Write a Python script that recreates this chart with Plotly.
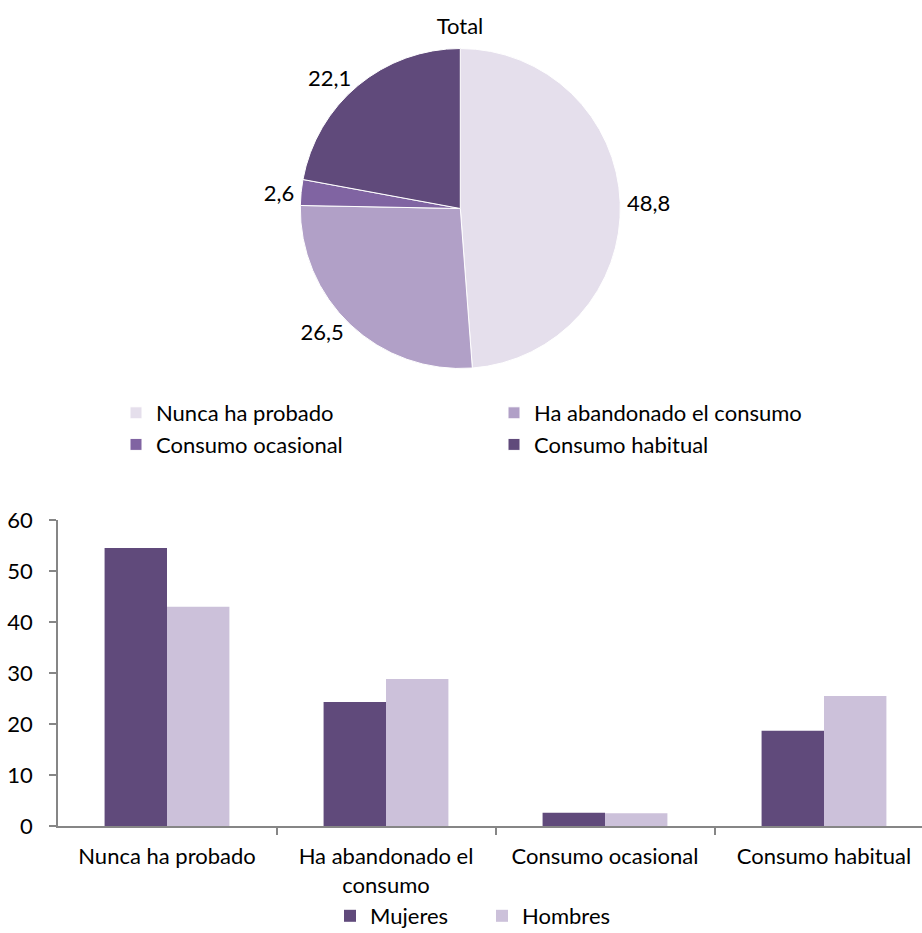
import plotly.graph_objects as go

# ---- data ----
pie_labels = ["Nunca ha probado", "Ha abandonado el consumo", "Consumo ocasional", "Consumo habitual"]
pie_values = [48.8, 26.5, 2.6, 22.1]
pie_colors = ["#E5DFEC", "#B1A0C7", "#8064A2", "#604A7B"]

bar_categories = ["Nunca ha probado", "Ha abandonado el consumo", "Consumo ocasional", "Consumo habitual"]
bar_ticktext = ["Nunca ha probado", "Ha abandonado el<br>consumo", "Consumo ocasional", "Consumo habitual"]
mujeres = [54.5, 24.3, 2.6, 18.7]
hombres = [43.0, 28.8, 2.5, 25.5]
y_ticks = [0, 10, 20, 30, 40, 50, 60]

FONT = "Lato"
FS = 22
W, H = 922, 933
L = 58
GW = W - L

def px_x(p):
    return (p - L) / GW

def px_y(p):
    return 1 - p / H

fig = go.Figure()

fig.add_trace(go.Pie(
    labels=pie_labels, values=pie_values, sort=False, direction="clockwise", rotation=0,
    marker=dict(colors=pie_colors, line=dict(color="white", width=1)),
    textposition="outside", texttemplate="%{value:.1f}",
    textfont=dict(family=FONT, size=FS, color="#000000"),
    domain=dict(x=[px_x(300.3), px_x(620.3)], y=[px_y(368.5), px_y(48.5)]),
    legend="legend", hoverinfo="label+value",
))

fig.add_trace(go.Bar(x=bar_categories, y=mujeres, name="Mujeres", marker_color="#604A7B",
                     legend="legend2"))
fig.add_trace(go.Bar(x=bar_categories, y=hombres, name="Hombres", marker_color="#CCC1DA",
                     legend="legend2"))

axis_col = "#868686"
fig.update_layout(
    template="none",
    width=W, height=H,
    margin=dict(l=L, r=0, t=0, b=0, pad=0, autoexpand=False),
    paper_bgcolor="white", plot_bgcolor="white",
    separators=",.",
    font=dict(family=FONT, size=FS, color="#000000"),
    title=dict(text="Total", x=460 / W, xanchor="center", xref="container",
               y=1 - 26 / H, yanchor="middle", yref="container",
               font=dict(family=FONT, size=FS, color="#000000")),
    barmode="group", bargap=0.43, bargroupgap=0,
    xaxis=dict(type="category", domain=[0, 1], range=[-0.4977, 3.4475],
               tickmode="array", tickvals=bar_categories, ticktext=bar_ticktext,
               tickson="boundaries", ticks="outside", ticklen=7, tickwidth=1.5, tickcolor=axis_col,
               ticklabelstandoff=10,
               showline=True, linecolor=axis_col, linewidth=1.5, showgrid=False, zeroline=False,
               tickfont=dict(family=FONT, size=FS, color="#000000"), automargin=False),
    yaxis=dict(domain=[px_y(826), px_y(520)], range=[0, 60], tickmode="array", tickvals=y_ticks,
               ticks="outside", ticklen=7, tickwidth=1.5, tickcolor=axis_col,
               ticklabelstandoff=12,
               showline=True, linecolor=axis_col, linewidth=1.5, showgrid=False, zeroline=False,
               tickfont=dict(family=FONT, size=FS, color="#000000"), automargin=False),
    legend=dict(orientation="h", entrywidth=333, entrywidthmode="pixels",
                x=px_x(116), xanchor="left", y=px_y(429), yanchor="middle",
                font=dict(family=FONT, size=FS, color="#000000"), bgcolor="rgba(0,0,0,0)",
                traceorder="normal"),
    legend2=dict(orientation="h", entrywidth=107, entrywidthmode="pixels",
                 x=px_x(330), xanchor="left", y=px_y(916), yanchor="middle",
                 font=dict(family=FONT, size=FS, color="#000000"), bgcolor="rgba(0,0,0,0)",
                 traceorder="normal"),
    showlegend=True,
)

fig.write_html("out.html", config={"displayModeBar": False},
               post_script="document.body.style.margin='0';document.body.style.overflow='hidden';")
